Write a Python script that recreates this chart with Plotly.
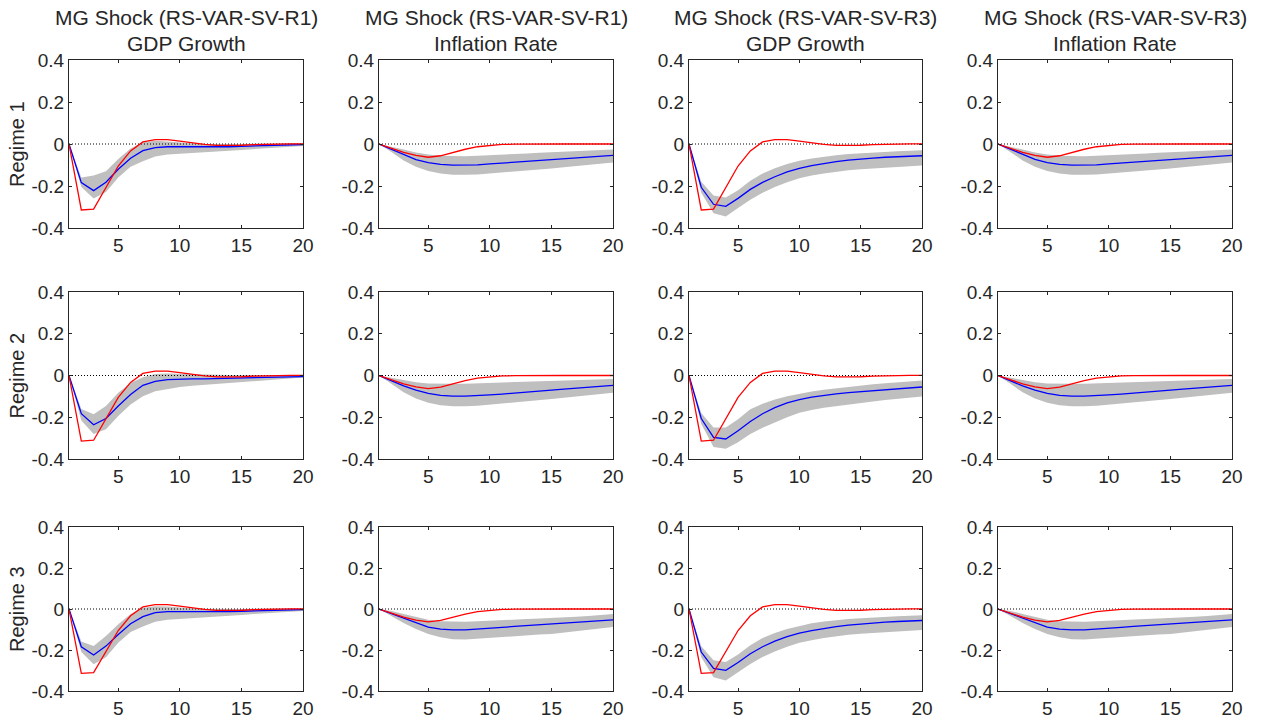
import plotly.graph_objects as go

# ---------------- data ----------------
horizon = list(range(1, 21))

# benchmark (red) responses
gdp_bench = [0, -0.314, -0.310, -0.205, -0.105, -0.033, 0.010, 0.021, 0.021, 0.014,
             0.005, -0.002, -0.007, -0.008, -0.006, -0.003, -0.001, 0.000, 0.001, 0.001]
inf_bench = [0, -0.020, -0.040, -0.054, -0.063, -0.056, -0.040, -0.025, -0.013, -0.006,
             -0.002, -0.001, 0.000, 0.000, 0.000, 0.000, 0.000, 0.000, 0.000, 0.000]

# GDP growth, RS-VAR-SV-R1
gdp_r1_reg1_med = [0, -0.184, -0.222, -0.182, -0.120, -0.068, -0.032, -0.017, -0.013, -0.013,
                   -0.014, -0.015, -0.015, -0.013, -0.011, -0.009, -0.007, -0.005, -0.004, -0.003]
gdp_r1_reg1_up = [0, -0.160, -0.150, -0.130, -0.072, -0.022, 0.008, 0.015, 0.012, 0.006,
                  0.002, 0.000, -0.001, -0.001, 0.000, 0.001, 0.002, 0.003, 0.003, 0.003]
gdp_r1_reg1_lo = [0, -0.205, -0.260, -0.228, -0.160, -0.108, -0.082, -0.060, -0.050, -0.045,
                  -0.042, -0.039, -0.036, -0.032, -0.028, -0.024, -0.020, -0.017, -0.013, -0.010]

gdp_r1_reg2_med = [0, -0.183, -0.236, -0.206, -0.146, -0.091, -0.047, -0.028, -0.020, -0.017,
                   -0.016, -0.016, -0.015, -0.013, -0.011, -0.009, -0.008, -0.007, -0.006, -0.005]
gdp_r1_reg2_up = [0, -0.160, -0.186, -0.146, -0.083, -0.036, -0.008, 0.007, 0.010, 0.008,
                  0.005, 0.003, 0.002, 0.002, 0.002, 0.002, 0.002, 0.002, 0.002, 0.002]
gdp_r1_reg2_lo = [0, -0.215, -0.280, -0.257, -0.194, -0.139, -0.099, -0.076, -0.065, -0.055,
                  -0.049, -0.044, -0.040, -0.036, -0.033, -0.028, -0.023, -0.018, -0.014, -0.010]

gdp_r1_reg3_med = [0, -0.184, -0.224, -0.181, -0.124, -0.072, -0.037, -0.018, -0.013, -0.013,
                   -0.014, -0.015, -0.015, -0.013, -0.011, -0.009, -0.007, -0.005, -0.004, -0.003]
gdp_r1_reg3_up = [0, -0.158, -0.180, -0.132, -0.075, -0.025, 0.006, 0.014, 0.012, 0.007,
                  0.003, 0.001, 0.000, -0.001, 0.000, 0.001, 0.002, 0.003, 0.003, 0.003]
gdp_r1_reg3_lo = [0, -0.210, -0.270, -0.235, -0.165, -0.112, -0.085, -0.062, -0.052, -0.047,
                  -0.044, -0.040, -0.037, -0.033, -0.029, -0.025, -0.021, -0.017, -0.013, -0.010]

# Inflation rate, RS-VAR-SV-R1
inf_r1_reg1_med = [0, -0.025, -0.052, -0.074, -0.089, -0.097, -0.101, -0.101, -0.099, -0.095,
                   -0.091, -0.087, -0.083, -0.079, -0.075, -0.070, -0.066, -0.062, -0.058, -0.054]
inf_r1_reg1_up = [0, -0.012, -0.026, -0.040, -0.050, -0.056, -0.058, -0.058, -0.056, -0.054,
                  -0.051, -0.048, -0.045, -0.042, -0.039, -0.036, -0.033, -0.030, -0.028, -0.026]
inf_r1_reg1_lo = [0, -0.038, -0.078, -0.108, -0.128, -0.140, -0.146, -0.147, -0.145, -0.141,
                  -0.137, -0.132, -0.127, -0.122, -0.117, -0.111, -0.105, -0.099, -0.093, -0.088]

inf_r1_reg2_med = [0, -0.025, -0.050, -0.070, -0.086, -0.095, -0.099, -0.099, -0.097, -0.093,
                   -0.089, -0.085, -0.080, -0.075, -0.070, -0.065, -0.060, -0.056, -0.051, -0.047]
inf_r1_reg2_up = [0, -0.010, -0.022, -0.032, -0.038, -0.040, -0.040, -0.039, -0.037, -0.034,
                  -0.032, -0.030, -0.028, -0.026, -0.024, -0.022, -0.020, -0.019, -0.018, -0.017]
inf_r1_reg2_lo = [0, -0.040, -0.080, -0.110, -0.130, -0.142, -0.147, -0.147, -0.145, -0.141,
                  -0.136, -0.130, -0.124, -0.118, -0.112, -0.106, -0.100, -0.094, -0.088, -0.083]

inf_r1_reg3_med = [0, -0.022, -0.045, -0.069, -0.088, -0.098, -0.102, -0.102, -0.099, -0.094,
                   -0.090, -0.085, -0.081, -0.077, -0.074, -0.070, -0.066, -0.062, -0.057, -0.053]
inf_r1_reg3_up = [0, -0.010, -0.024, -0.040, -0.053, -0.060, -0.062, -0.062, -0.060, -0.058,
                  -0.055, -0.052, -0.049, -0.046, -0.044, -0.041, -0.038, -0.034, -0.030, -0.025]
inf_r1_reg3_lo = [0, -0.032, -0.068, -0.098, -0.122, -0.138, -0.147, -0.149, -0.146, -0.141,
                  -0.137, -0.133, -0.129, -0.125, -0.122, -0.118, -0.110, -0.102, -0.095, -0.088]

# GDP growth, RS-VAR-SV-R3
gdp_r3_reg1_med = [0, -0.206, -0.287, -0.297, -0.259, -0.216, -0.183, -0.156, -0.133, -0.116,
                   -0.103, -0.092, -0.084, -0.077, -0.071, -0.067, -0.063, -0.060, -0.057, -0.056]
gdp_r3_reg1_up = [0, -0.180, -0.245, -0.255, -0.220, -0.175, -0.140, -0.115, -0.095, -0.080,
                  -0.069, -0.060, -0.053, -0.048, -0.044, -0.040, -0.037, -0.034, -0.032, -0.030]
gdp_r3_reg1_lo = [0, -0.232, -0.330, -0.345, -0.305, -0.265, -0.232, -0.205, -0.182, -0.163,
                  -0.150, -0.140, -0.132, -0.125, -0.120, -0.115, -0.111, -0.108, -0.105, -0.102]

gdp_r3_reg2_med = [0, -0.206, -0.296, -0.304, -0.265, -0.220, -0.183, -0.154, -0.131, -0.115,
                   -0.104, -0.095, -0.088, -0.082, -0.077, -0.072, -0.067, -0.063, -0.059, -0.055]
gdp_r3_reg2_up = [0, -0.180, -0.249, -0.249, -0.209, -0.162, -0.135, -0.115, -0.099, -0.087,
                  -0.077, -0.068, -0.061, -0.054, -0.048, -0.042, -0.037, -0.032, -0.028, -0.024]
gdp_r3_reg2_lo = [0, -0.232, -0.343, -0.351, -0.320, -0.280, -0.250, -0.225, -0.200, -0.178,
                  -0.165, -0.155, -0.146, -0.138, -0.131, -0.124, -0.117, -0.111, -0.105, -0.100]

gdp_r3_reg3_med = [0, -0.210, -0.290, -0.299, -0.261, -0.218, -0.184, -0.157, -0.135, -0.118,
                   -0.105, -0.094, -0.086, -0.079, -0.073, -0.068, -0.064, -0.061, -0.058, -0.056]
gdp_r3_reg3_up = [0, -0.182, -0.250, -0.258, -0.222, -0.177, -0.142, -0.117, -0.097, -0.082,
                  -0.070, -0.061, -0.054, -0.049, -0.045, -0.041, -0.038, -0.035, -0.033, -0.031]
gdp_r3_reg3_lo = [0, -0.235, -0.333, -0.349, -0.308, -0.268, -0.234, -0.207, -0.184, -0.165,
                  -0.152, -0.141, -0.133, -0.126, -0.121, -0.116, -0.112, -0.109, -0.106, -0.103]

# Inflation rate, RS-VAR-SV-R3
inf_r3_reg1_med = [0, -0.025, -0.051, -0.073, -0.089, -0.097, -0.101, -0.101, -0.099, -0.095,
                   -0.091, -0.087, -0.083, -0.079, -0.075, -0.070, -0.066, -0.062, -0.058, -0.054]
inf_r3_reg1_up = [0, -0.012, -0.026, -0.040, -0.050, -0.056, -0.058, -0.058, -0.056, -0.054,
                  -0.051, -0.048, -0.045, -0.042, -0.039, -0.036, -0.033, -0.030, -0.028, -0.026]
inf_r3_reg1_lo = [0, -0.038, -0.078, -0.108, -0.128, -0.140, -0.146, -0.147, -0.145, -0.141,
                  -0.137, -0.132, -0.127, -0.122, -0.117, -0.111, -0.105, -0.099, -0.093, -0.088]

inf_r3_reg2_med = [0, -0.025, -0.050, -0.070, -0.086, -0.095, -0.099, -0.099, -0.097, -0.093,
                   -0.089, -0.085, -0.080, -0.075, -0.070, -0.065, -0.060, -0.056, -0.051, -0.047]
inf_r3_reg2_up = [0, -0.010, -0.022, -0.032, -0.038, -0.040, -0.040, -0.039, -0.037, -0.034,
                  -0.032, -0.030, -0.028, -0.026, -0.024, -0.022, -0.020, -0.019, -0.018, -0.017]
inf_r3_reg2_lo = [0, -0.040, -0.080, -0.110, -0.130, -0.142, -0.147, -0.147, -0.145, -0.141,
                  -0.136, -0.130, -0.124, -0.118, -0.112, -0.106, -0.100, -0.094, -0.088, -0.083]

inf_r3_reg3_med = [0, -0.022, -0.045, -0.069, -0.088, -0.098, -0.102, -0.102, -0.099, -0.094,
                   -0.090, -0.085, -0.081, -0.077, -0.074, -0.070, -0.066, -0.062, -0.057, -0.053]
inf_r3_reg3_up = [0, -0.010, -0.024, -0.040, -0.053, -0.060, -0.062, -0.062, -0.060, -0.058,
                  -0.055, -0.052, -0.049, -0.046, -0.044, -0.041, -0.038, -0.034, -0.030, -0.025]
inf_r3_reg3_lo = [0, -0.032, -0.068, -0.098, -0.122, -0.138, -0.147, -0.149, -0.146, -0.141,
                  -0.137, -0.133, -0.129, -0.125, -0.122, -0.118, -0.110, -0.102, -0.095, -0.088]

col_titles = ["MG Shock (RS-VAR-SV-R1)", "MG Shock (RS-VAR-SV-R1)",
              "MG Shock (RS-VAR-SV-R3)", "MG Shock (RS-VAR-SV-R3)"]
col_subtitles = ["GDP Growth", "Inflation Rate", "GDP Growth", "Inflation Rate"]
row_labels = ["Regime 1", "Regime 2", "Regime 3"]
x_ticks = [5, 10, 15, 20]
y_ticks = [-0.4, -0.2, 0, 0.2, 0.4]
y_ticklabels = ["-0.4", "-0.2", "0", "0.2", "0.4"]

panels = [
    [(gdp_r1_reg1_med, gdp_r1_reg1_up, gdp_r1_reg1_lo, gdp_bench),
     (inf_r1_reg1_med, inf_r1_reg1_up, inf_r1_reg1_lo, inf_bench),
     (gdp_r3_reg1_med, gdp_r3_reg1_up, gdp_r3_reg1_lo, gdp_bench),
     (inf_r3_reg1_med, inf_r3_reg1_up, inf_r3_reg1_lo, inf_bench)],
    [(gdp_r1_reg2_med, gdp_r1_reg2_up, gdp_r1_reg2_lo, gdp_bench),
     (inf_r1_reg2_med, inf_r1_reg2_up, inf_r1_reg2_lo, inf_bench),
     (gdp_r3_reg2_med, gdp_r3_reg2_up, gdp_r3_reg2_lo, gdp_bench),
     (inf_r3_reg2_med, inf_r3_reg2_up, inf_r3_reg2_lo, inf_bench)],
    [(gdp_r1_reg3_med, gdp_r1_reg3_up, gdp_r1_reg3_lo, gdp_bench),
     (inf_r1_reg3_med, inf_r1_reg3_up, inf_r1_reg3_lo, inf_bench),
     (gdp_r3_reg3_med, gdp_r3_reg3_up, gdp_r3_reg3_lo, gdp_bench),
     (inf_r3_reg3_med, inf_r3_reg3_up, inf_r3_reg3_lo, inf_bench)],
]

# ---------------- layout ----------------
W, H = 1262, 725
col_px = [(69, 303), (379, 613), (689, 922), (998, 1232)]
row_px = [(60, 228), (292, 459), (527, 691)]
FONT = "Liberation Sans, Arial, Helvetica, sans-serif"
TXT = "#262626"

fig = go.Figure()
layout = dict(template="none", width=W, height=H, margin=dict(l=0, r=0, t=0, b=0, pad=0),
              paper_bgcolor="white", plot_bgcolor="white", showlegend=False,
              hovermode=False,
              font=dict(family=FONT, color=TXT, size=19))
annotations = []

for r in range(3):
    for c in range(4):
        idx = r * 4 + c + 1
        sfx = "" if idx == 1 else str(idx)
        med, up, lo, bench = panels[r][c]
        xr, yr = "x" + sfx, "y" + sfx
        # band
        fig.add_trace(go.Scatter(x=horizon + horizon[::-1], y=up + lo[::-1],
                                 fill="toself", fillcolor="#BFBFBF",
                                 line=dict(width=0), mode="lines",
                                 xaxis=xr, yaxis=yr, hoverinfo="skip"))
        # zero line
        fig.add_trace(go.Scatter(x=horizon, y=[0] * len(horizon), mode="lines",
                                 line=dict(color="black", width=1, dash="1px,2px"),
                                 xaxis=xr, yaxis=yr, hoverinfo="skip"))
        # median
        fig.add_trace(go.Scatter(x=horizon, y=med, mode="lines",
                                 line=dict(color="rgb(0,0,255)", width=1.3),
                                 xaxis=xr, yaxis=yr))
        # benchmark
        fig.add_trace(go.Scatter(x=horizon, y=bench, mode="lines",
                                 line=dict(color="rgb(255,0,0)", width=1.3),
                                 xaxis=xr, yaxis=yr))
        x0, x1 = col_px[c]
        y0, y1 = row_px[r]
        common = dict(showline=True, linecolor=TXT, linewidth=1, mirror="ticks",
                      ticks="inside", ticklen=3, tickcolor=TXT, tickwidth=1, showgrid=False,
                      zeroline=False, automargin=False, fixedrange=True,
                      tickfont=dict(family=FONT, size=19, color=TXT))
        layout["xaxis" + sfx] = dict(domain=[x0 / W, x1 / W], anchor=yr, range=[1, 20],
                                     tickvals=x_ticks, **common)
        layout["yaxis" + sfx] = dict(domain=[1 - y1 / H, 1 - y0 / H], anchor=xr,
                                     range=[-0.4, 0.4], tickvals=y_ticks,
                                     ticktext=y_ticklabels, **common)

for c in range(4):
    cx = (col_px[c][0] + col_px[c][1]) / 2 / W
    annotations.append(dict(text=col_titles[c], x=cx, y=1 - 17.5 / H, xref="paper", yref="paper",
                            showarrow=False, xanchor="center", yanchor="middle",
                            font=dict(family=FONT, size=21, color=TXT)))
    annotations.append(dict(text=col_subtitles[c], x=cx, y=1 - 44 / H, xref="paper", yref="paper",
                            showarrow=False, xanchor="center", yanchor="middle",
                            font=dict(family=FONT, size=21, color=TXT)))
for r in range(3):
    cy = 1 - (row_px[r][0] + row_px[r][1]) / 2 / H
    annotations.append(dict(text=row_labels[r], x=17 / W, y=cy, xref="paper", yref="paper",
                            showarrow=False, textangle=-90, xanchor="center", yanchor="middle",
                            font=dict(family=FONT, size=20, color=TXT)))

layout["annotations"] = annotations
fig.update_layout(**layout)
fig.write_html("out.html", config={"displayModeBar": False, "staticPlot": False},
               post_script="document.body.style.margin='0px';document.body.style.overflow='hidden';")
